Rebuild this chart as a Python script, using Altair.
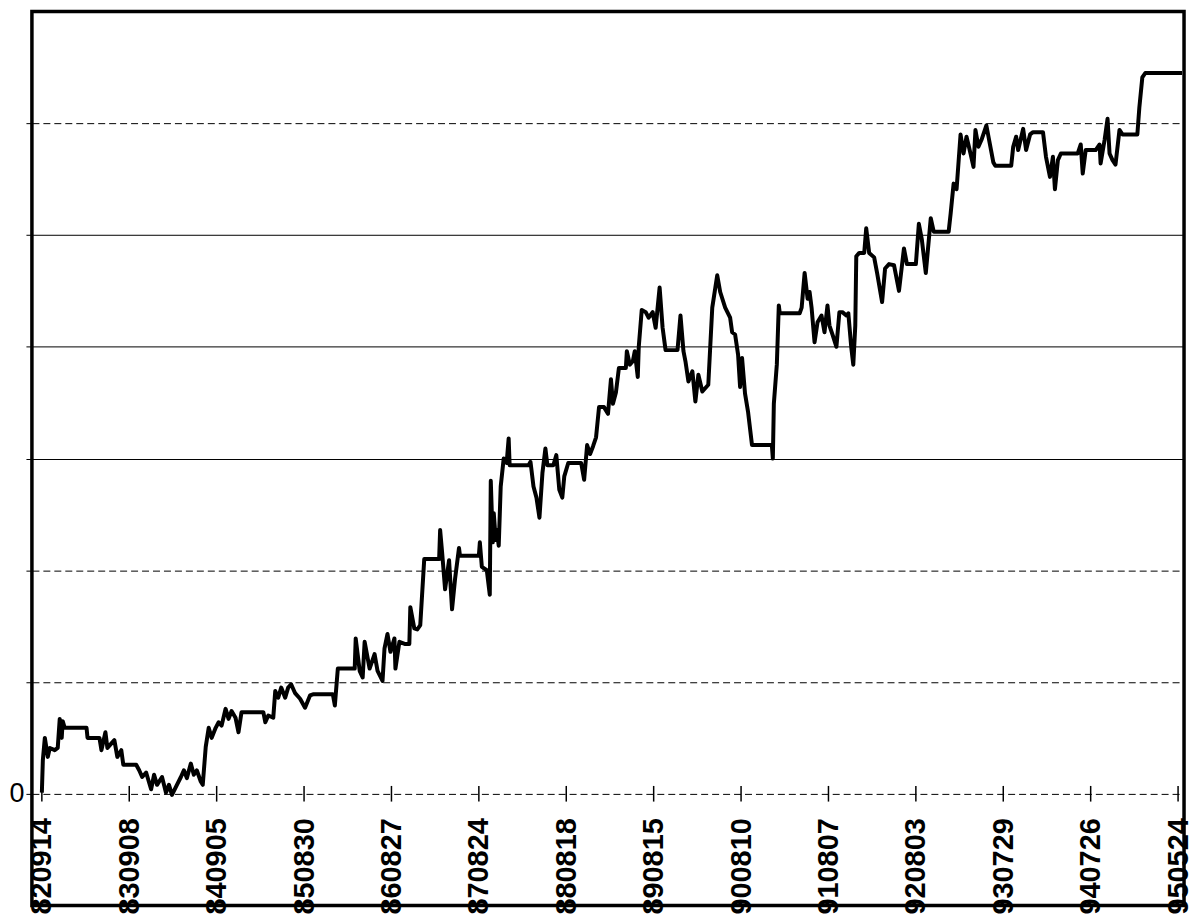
import altair as alt
import pandas as pd

# x-axis tick labels (dates YYMMDD), one every 88 bars
tick_labels = ["820914", "830908", "840905", "850830", "860827", "870824", "880818",
               "890815", "900810", "910807", "920803", "930729", "940726", "950524"]
tick_step = 88
tick_pos = [i * tick_step for i in range(len(tick_labels))]

# y grid values (only 0 is labelled)
grid_values = [0, 1, 2, 3, 4, 5, 6]

# equity curve: (bar index, value in grid units)
curve = [
    (0, 0.01), (1, 0.30), (3, 0.50), (6, 0.33), (8, 0.41), (13, 0.39), (16, 0.41), (18, 0.67),
    (20, 0.50), (21, 0.65), (23, 0.59), (45, 0.59), (46, 0.50), (58, 0.50), (60, 0.39), (64, 0.55),
    (66, 0.41), (73, 0.48), (76, 0.33), (80, 0.39), (82, 0.26), (95, 0.26), (98, 0.21), (101, 0.15),
    (105, 0.19), (110, 0.04), (113, 0.17), (116, 0.08), (121, 0.15), (125, 0.01), (128, 0.08),
    (131, -0.01), (136, 0.08), (140, 0.15), (143, 0.21), (146, 0.14), (150, 0.27), (153, 0.17),
    (156, 0.21), (160, 0.11), (162, 0.08), (165, 0.42), (168, 0.59), (171, 0.50), (175, 0.59),
    (178, 0.64), (181, 0.61), (185, 0.76), (188, 0.67), (191, 0.74), (195, 0.68), (198, 0.55),
    (201, 0.73), (223, 0.73), (225, 0.64), (228, 0.70), (233, 0.68), (235, 0.92), (238, 0.86),
    (241, 0.95), (245, 0.86), (248, 0.95), (251, 0.98), (255, 0.90), (260, 0.85), (265, 0.77),
    (270, 0.88), (273, 0.89), (293, 0.89), (295, 0.79), (298, 1.12), (315, 1.12), (316, 1.39),
    (320, 1.10), (323, 1.04), (325, 1.36), (330, 1.12), (335, 1.25), (338, 1.10), (343, 1.01),
    (345, 1.30), (348, 1.43), (351, 1.27), (355, 1.39), (356, 1.12), (360, 1.36), (366, 1.34),
    (370, 1.34), (371, 1.67), (375, 1.48), (378, 1.47), (381, 1.51), (385, 2.10), (400, 2.10),
    (401, 2.36), (403, 2.16), (406, 1.83), (410, 2.09), (413, 1.65), (416, 1.92), (420, 2.20),
    (421, 2.13), (440, 2.13), (441, 2.25), (443, 2.03), (448, 2.00), (451, 1.78), (452, 2.80),
    (454, 2.25), (455, 2.51), (457, 2.27), (458, 2.36), (460, 2.22), (462, 2.75), (465, 3.00),
    (468, 2.96), (470, 3.18), (471, 2.94), (490, 2.94), (492, 2.97), (495, 2.75), (498, 2.65),
    (501, 2.47), (504, 2.87), (507, 3.09), (509, 2.94), (515, 2.94), (518, 3.03), (521, 2.72),
    (524, 2.65), (526, 2.84), (530, 2.96), (543, 2.96), (546, 2.81), (549, 3.12), (552, 3.04),
    (555, 3.11), (558, 3.19), (561, 3.46), (566, 3.46), (570, 3.40), (573, 3.71), (575, 3.49),
    (578, 3.59), (581, 3.81), (588, 3.81), (589, 3.96), (592, 3.84), (595, 3.87), (597, 3.96),
    (600, 3.73), (601, 4.00), (604, 4.33), (608, 4.31), (611, 4.26), (615, 4.31), (618, 4.17),
    (622, 4.53), (625, 4.17), (628, 3.97), (640, 3.97), (643, 4.28), (646, 3.96), (648, 3.87),
    (651, 3.69), (655, 3.78), (658, 3.51), (661, 3.75), (665, 3.60), (671, 3.66), (675, 4.35),
    (680, 4.64), (683, 4.49), (688, 4.35), (693, 4.26), (695, 4.13), (698, 4.11), (701, 3.93),
    (703, 3.64), (705, 3.90), (708, 3.58), (711, 3.42), (715, 3.12), (735, 3.12), (736, 3.00),
    (737, 3.49), (740, 3.84), (742, 4.37), (743, 4.30), (763, 4.30), (765, 4.35), (768, 4.66),
    (771, 4.43), (773, 4.49), (775, 4.35), (778, 4.04), (781, 4.22), (785, 4.28), (788, 4.13),
    (791, 4.37), (793, 4.19), (796, 4.11), (800, 4.00), (803, 4.31), (806, 4.31), (810, 4.28),
    (812, 4.30), (815, 3.99), (817, 3.84), (819, 4.19), (820, 4.81), (823, 4.84), (828, 4.84),
    (830, 5.06), (833, 4.84), (838, 4.80), (841, 4.66), (846, 4.40), (849, 4.70), (853, 4.74),
    (858, 4.73), (863, 4.50), (868, 4.88), (871, 4.74), (880, 4.74), (883, 5.10), (886, 4.96),
    (890, 4.66), (895, 5.15), (898, 5.03), (913, 5.03), (915, 5.19), (918, 5.46), (921, 5.41),
    (925, 5.90), (928, 5.73), (931, 5.88), (935, 5.73), (938, 5.61), (940, 5.94), (943, 5.79),
    (946, 5.85), (951, 5.98), (955, 5.79), (958, 5.65), (960, 5.62), (976, 5.62), (978, 5.79),
    (981, 5.88), (983, 5.76), (988, 5.95), (991, 5.76), (995, 5.90), (998, 5.92), (1008, 5.92),
    (1011, 5.70), (1015, 5.52), (1018, 5.70), (1020, 5.41), (1023, 5.67), (1026, 5.73),
    (1043, 5.73), (1046, 5.81), (1048, 5.55), (1051, 5.76), (1061, 5.76), (1065, 5.81),
    (1066, 5.64), (1070, 5.85), (1073, 6.04), (1075, 5.73), (1078, 5.67), (1081, 5.63),
    (1085, 5.94), (1088, 5.90), (1103, 5.90), (1105, 6.14), (1108, 6.41), (1111, 6.45),
    (1148, 6.45),
]

df = pd.DataFrame(curve, columns=["bar", "equity"])
ticks_df = pd.DataFrame({"bar": tick_pos})

label_js = "[" + ",".join("'%s'" % l for l in tick_labels) + "]"

W, H = 1156, 897
y_dom = [-1, 7]
zero_offset = -H * (0 - y_dom[0]) / (y_dom[1] - y_dom[0])

x_scale = alt.Scale(domain=[-10, 1150], nice=False, zero=False)
y_scale = alt.Scale(domain=y_dom, nice=False, zero=False)

line = alt.Chart(df).mark_line(color="black", strokeWidth=4, strokeJoin="round").encode(
    x=alt.X("bar:Q", scale=x_scale, axis=alt.Axis(
        values=tick_pos,
        labelExpr="%s[round(datum.value/%d)]" % (label_js, tick_step),
        title=None, grid=False, domain=False, ticks=False,
        labelAngle=270, labelAlign="right", labelBaseline="middle",
        labelPadding=24, labelFont="Liberation Sans", labelFontSize=29,
        labelFontWeight="bold", labelColor="black",
        labelOverlap=False, labelBound=False, labelFlush=False,
        offset=zero_offset)),
    y=alt.Y("equity:Q", scale=y_scale, axis=alt.Axis(
        values=grid_values,
        labelExpr="datum.value == 0 ? '0' : ''",
        title=None, grid=True, gridColor="black", gridWidth=1,
        gridDash={"condition": {"test": "datum.value <= 2 || datum.value >= 6", "value": [7, 4]},
                  "value": []},
        domain=False, tickColor="black", tickSize=6, tickWidth=1,
        labelPadding=2, labelFont="Liberation Sans", labelFontSize=27,
        labelColor="black")),
)

tick_marks = alt.Chart(ticks_df).mark_rule(color="black", strokeWidth=1.5).encode(
    x=alt.X("bar:Q", scale=x_scale),
    y=alt.datum(-0.07),
    y2=alt.datum(0.07),
)

chart = alt.layer(line, tick_marks).properties(
    width=W, height=H,
    padding={"left": 24, "top": 2, "right": 10, "bottom": 11},
    autosize=alt.AutoSizeParams(type="none"),
    background="white",
).configure_view(stroke="black", strokeWidth=3.5)

chart.save("out.html", embed_options={"renderer": "svg", "actions": False})
